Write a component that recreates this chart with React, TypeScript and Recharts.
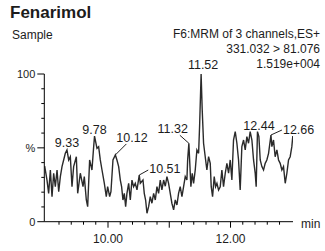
import { LineChart, Line, XAxis, YAxis, ReferenceDot } from 'recharts';

const scanTimes = [
  8.966, 9.004, 9.031, 9.059, 9.086, 9.113, 9.14, 9.168, 9.195, 9.222, 9.249, 9.276, 9.303, 9.33,
  9.358, 9.385, 9.412, 9.439, 9.483, 9.505, 9.548, 9.592, 9.613, 9.646, 9.668, 9.7, 9.738, 9.766,
  9.78, 9.82, 9.847, 9.874, 9.902, 9.94, 9.972, 9.994, 10.027, 10.048, 10.081, 10.12, 10.146,
  10.174, 10.201, 10.222, 10.244, 10.266, 10.288, 10.309, 10.337, 10.364, 10.391, 10.418, 10.445,
  10.473, 10.51, 10.527, 10.571, 10.592, 10.614, 10.636, 10.663, 10.69, 10.717, 10.745, 10.772,
  10.799, 10.826, 10.853, 10.88, 10.908, 10.935, 10.962, 10.989, 11.016, 11.043, 11.071, 11.098,
  11.125, 11.152, 11.179, 11.207, 11.234, 11.261, 11.288, 11.3, 11.32, 11.353, 11.375, 11.397,
  11.424, 11.451, 11.479, 11.495, 11.52, 11.538, 11.56, 11.587, 11.614, 11.642, 11.669, 11.685,
  11.707, 11.734, 11.756, 11.778, 11.805, 11.832, 11.859, 11.886, 11.914, 11.941, 11.968, 11.995,
  12.022, 12.049, 12.077, 12.104, 12.131, 12.158, 12.185, 12.213, 12.24, 12.267, 12.294, 12.321,
  12.349, 12.376, 12.403, 12.419, 12.44, 12.463, 12.485, 12.512, 12.539, 12.566, 12.593, 12.621,
  12.66, 12.675, 12.702, 12.729, 12.757, 12.784, 12.811, 12.838, 12.865, 12.893, 12.92, 12.947,
  12.974, 13.001, 13.017,
];

const intensity = [
  37.7, 28.2, 19.2, 35.0, 17.0, 32.8, 23.7, 35.0, 20.3, 30.5, 37.3, 41.8, 46.3, 48.6,
  41.8, 44.0, 23.7, 37.3, 44.0, 19.2, 32.8, 23.7, 30.5, 14.7, 10.2, 41.8, 35.0, 50.8,
  58.0, 49.7, 50.8, 41.8, 35.0, 26.0, 17.0, 23.7, 17.0, 20.3, 41.8, 45.2, 41.8,
  37.3, 28.2, 23.7, 14.7, 19.2, 10.2, 19.2, 26.0, 14.7, 28.2, 23.7, 26.0,
  21.5, 31.6, 26.0, 28.2, 19.2, 14.7, 5.7, 10.2, 17.0, 12.5, 19.2, 14.7,
  23.7, 19.2, 28.2, 21.5, 28.2, 24.0, 30.5, 26.0, 19.2, 12.5, 8.0, 14.7,
  11.3, 19.2, 23.7, 17.0, 23.7, 30.5, 28.2, 41.8, 53.1, 23.7, 32.8, 26.0,
  35.0, 48.6, 46.3, 64.4, 100, 75.6, 53.1, 44.0, 35.0, 44.0, 39.5, 23.7,
  17.0, 30.5, 23.7, 26.0, 21.5, 23.7, 35.0, 23.7, 32.8, 39.5, 32.8, 41.8,
  28.2, 55.3, 61.0, 53.1, 41.8, 21.5, 50.8, 55.3, 48.6, 57.6, 53.1, 61.0,
  55.3, 41.8, 32.8, 23.7, 61.0, 57.6, 41.8, 37.3, 35.0, 39.5, 41.8, 46.3,
  58.7, 50.8, 55.3, 44.0, 48.6, 41.8, 39.5, 35.0, 37.3, 26.0, 32.8, 41.8,
  44.0, 50.8, 58.0,
];

const peakTimes = [9.33, 9.78, 10.12, 10.51, 11.32, 11.52, 12.44, 12.66];
const peakLabels = ['9.33', '9.78', '10.12', '10.51', '11.32', '11.52', '12.44', '12.66'];

const xTicks = [9.2, 9.4, 9.6, 9.8, 10, 10.2, 10.4, 10.6, 10.8, 11, 11.2, 11.4, 11.6, 11.8, 12, 12.2, 12.4, 12.6, 12.8];
const xLabelValues = [10, 12];
const xLabelTexts = ['10.00', '12.00'];

const yTicks = [0, 10, 20, 30, 40, 50, 60, 70, 80, 90, 100];
const yLabelValues = [0, 50, 100];
const yLabelTexts = ['0', '%', '100'];

const FONT = '"Liberation Sans", Arial, sans-serif';
const INK = '#1c1c1c';

// where each peak label sits relative to its apex
const placement: Record<string, { dx: number; dy: number; anchor: 'start' | 'middle' | 'end'; lead?: [number, number] }> = {
  '9.33': { dx: 0, dy: -3, anchor: 'middle' },
  '9.78': { dx: 0, dy: -2, anchor: 'middle' },
  '10.12': { dx: 1, dy: -13, anchor: 'start', lead: [11, -11] },
  '10.51': { dx: 10, dy: -2, anchor: 'start', lead: [9, -5] },
  '11.32': { dx: -1, dy: -10, anchor: 'end', lead: [-9, -8] },
  '11.52': { dx: 2, dy: -5, anchor: 'middle' },
  '12.44': { dx: 1.5, dy: -2, anchor: 'middle' },
  '12.66': { dx: 12, dy: -1, anchor: 'start', lead: [11, -5] },
};

const rows = scanTimes.map((t, i) => ({ t, v: intensity[i] }));

function XTick(props: any) {
  const { x, y, payload } = props;
  const v = payload.value;
  const major = Math.abs(v - Math.round(v)) < 0.001;
  const li = xLabelValues.findIndex((d) => Math.abs(d - v) < 0.001);
  return (
    <g>
      <line x1={x} x2={x} y1={y} y2={y + (major ? 6 : 3)} stroke="#000" strokeWidth={1} />
      {li >= 0 && (
        <text x={x} y={y + 21} textAnchor="middle" fontSize={12} fontFamily={FONT} fill={INK}>
          {xLabelTexts[li]}
        </text>
      )}
    </g>
  );
}

function YTick(props: any) {
  const { x, y, payload } = props;
  const v = payload.value;
  const li = yLabelValues.indexOf(v);
  const major = li >= 0;
  return (
    <g>
      <line x1={x - (major ? 7 : 3)} x2={x} y1={y} y2={y} stroke="#000" strokeWidth={1} />
      {major && (
        <text x={x - 9} y={y + 4} textAnchor="end" fontSize={11} fontFamily={FONT} fill={INK}>
          {yLabelTexts[li]}
        </text>
      )}
    </g>
  );
}

function peakMark(label: string) {
  return (p: any) => {
    const { cx, cy } = p;
    const s = placement[label];
    return (
      <g>
        {s.lead && <line x1={cx} y1={cy} x2={cx + s.lead[0]} y2={cy + s.lead[1]} stroke="#222" strokeWidth={1} />}
        <text x={cx + s.dx} y={cy + s.dy} textAnchor={s.anchor} fontSize={12.5} fontFamily={FONT} fill={INK}>
          {label}
        </text>
      </g>
    );
  };
}

export default function App() {
  return (
    <div style={{ position: 'absolute', left: 0, top: 0, width: 325, height: 251, background: '#fff' }}>
      <LineChart width={325} height={251} data={rows} margin={{ top: 74, right: 32, bottom: 0, left: 0 }}>
        <XAxis
          type="number"
          dataKey="t"
          domain={[8.96, 13.02]}
          ticks={xTicks}
          interval={0}
          height={29.3}
          tickSize={0}
          tickMargin={0}
          tickLine={false}
          tick={<XTick />}
          axisLine={{ stroke: '#000' }}
          allowDataOverflow
        />
        <YAxis
          type="number"
          domain={[0, 100]}
          ticks={yTicks}
          interval={0}
          width={44.3}
          tickSize={0}
          tickMargin={0}
          tickLine={false}
          tick={<YTick />}
          axisLine={{ stroke: '#000' }}
        />
        <Line
          type="linear"
          dataKey="v"
          stroke="#2a2a2a"
          strokeWidth={1.4}
          strokeLinejoin="miter"
          dot={false}
          isAnimationActive={false}
        />
        {peakTimes.map((t, i) => (
          <ReferenceDot
            key={peakLabels[i]}
            x={t}
            y={intensity[scanTimes.indexOf(t)]}
            r={0}
            ifOverflow="visible"
            shape={peakMark(peakLabels[i])}
          />
        ))}
      </LineChart>
      <svg width={325} height={251} style={{ position: 'absolute', left: 0, top: 0, pointerEvents: 'none' }}>
        <text x={10} y={18} fontSize={17} fontWeight="bold" fontFamily={FONT} fill={INK}>Fenarimol</text>
        <text x={12} y={38.5} fontSize={12} fontFamily={FONT} fill={INK}>Sample</text>
        <text x={320} y={38} textAnchor="end" fontSize={12} fontFamily={FONT} fill={INK}>F6:MRM of 3 channels,ES+</text>
        <text x={320} y={53} textAnchor="end" fontSize={12} fontFamily={FONT} fill={INK}>331.032 &gt; 81.076</text>
        <text x={320} y={68} textAnchor="end" fontSize={12} fontFamily={FONT} fill={INK}>1.519e+004</text>
        <text x={301} y={228} fontSize={12} fontFamily={FONT} fill={INK}>min</text>
      </svg>
    </div>
  );
}
